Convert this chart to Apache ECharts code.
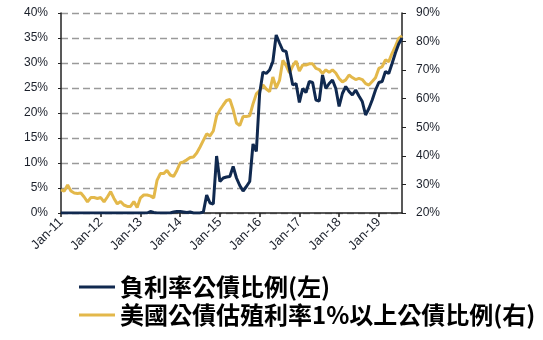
<!DOCTYPE html>
<html><head><meta charset="utf-8">
<script src="https://cdn.jsdelivr.net/npm/echarts@6/dist/echarts.min.js"></script>
<style>html,body{margin:0;padding:0;background:#fff}#c{width:543px;height:340px}</style>
</head><body><div id="c"></div>
<script>
var years = ['11','12','13','14','15','16','17','18','19'];
var monthNames = ['Jan','Feb','Mar','Apr','May','Jun','Jul','Aug','Sep','Oct','Nov','Dec'];
var categories = [];
for (var y = 0; y < years.length; y++) {
  for (var m = 0; m < 12; m++) {
    if (y === 8 && m > 7) break;
    categories.push(monthNames[m] + '-' + years[y]);
  }
}
var seriesNames = ['負利率公債比例(左)', '美國公債估殖利率1%以上公債比例(右)'];
// Left axis, %
var negativeYieldShare = [
  0,0,0,0,0,0,0,0,0,0,0,0,
  0,0,0,0,0,0,0,0,0,0,0,0,
  0,0,0,0.3,0.1,0,0,0,0,0,0.2,0.3,
  0.3,0.2,0.1,0.2,0,0,0,0.2,3.6,2.0,1.8,11.4,
  6.3,7.0,7.2,7.3,9.3,7.0,5.5,4.4,5.3,6.3,13.8,12.3,
  23.9,28.2,27.9,28.6,30.3,35.6,34.0,32.5,32.3,28.9,25.6,25.9,
  22.1,24.9,24.1,26.3,26.1,22.6,22.4,27.6,24.9,25.9,26.6,24.9,
  21.3,23.9,25.3,24.3,23.6,24.6,23.4,22.3,19.6,20.9,22.6,24.6,
  26.1,26.3,28.3,27.9,29.9,32.0,33.8,35.0
];
// Right axis, %
var above1pctShare = [
  28.1,27.7,29.8,27.7,27.0,26.8,27.0,25.6,23.9,25.4,25.4,25.1,
  25.4,23.9,25.6,27.5,25.1,23.2,24.0,22.8,22.3,22.3,24.0,21.9,
  25.3,26.3,26.3,26.0,25.3,31.4,33.8,33.8,34.9,33.3,32.8,34.9,
  37.5,37.9,38.6,39.4,39.6,41.0,43.1,45.4,47.7,47.0,48.7,54.0,
  56.1,57.8,59.4,59.7,56.2,51.5,50.6,53.8,53.8,54.0,58.2,61.7,
  62.9,64.8,63.4,62.5,67.6,63.8,66.4,73.4,71.6,69.0,71.5,73.2,
  69.7,71.8,71.8,72.2,72.2,70.6,70.2,68.8,70.1,69.2,70.1,69.0,
  67.1,65.9,66.6,68.3,67.4,66.7,67.1,66.7,65.3,64.8,66.0,67.3,
  70.6,71.2,73.6,73.0,75.9,78.3,81.1,82.0
];
var leftTicks = {min: 0, max: 40, interval: 5};
var rightTicks = {min: 20, max: 90, interval: 10};

var navy = '#10294f', gold = '#e3b84a';
var axisFont = {fontFamily: 'Liberation Sans, Arial, sans-serif', fontSize: 12, color: '#1a1f2a'};
var chart = echarts.init(document.getElementById('c'), null, {renderer: 'canvas'});
chart.setOption({
  animation: false,
  backgroundColor: '#fff',
  grid: {left: 61, right: 141, top: 13, bottom: 127, containLabel: false},
  legend: {
    orient: 'vertical', left: 79, top: 275, itemGap: 4, padding: 0,
    itemWidth: 36, itemHeight: 3, icon: 'rect',
    data: [{name: seriesNames[0], itemStyle: {color: navy}}, {name: seriesNames[1], itemStyle: {color: gold}}],
    textStyle: {fontFamily: 'Noto Sans CJK TC', fontWeight: 'bold', fontSize: 24, lineHeight: 24, color: '#000'}
  },
  xAxis: {
    type: 'category', data: categories, boundaryGap: false,
    axisLine: {lineStyle: {color: '#222', width: 1.5}},
    axisTick: {interval: 11, length: 4, lineStyle: {color: '#222', width: 1.5}},
    axisLabel: Object.assign({}, axisFont, {interval: 11, rotate: 45, margin: 7, fontSize: 13}),
    splitLine: {show: false}
  },
  yAxis: [
    {
      type: 'value', min: leftTicks.min, max: leftTicks.max, interval: leftTicks.interval,
      axisLine: {show: true, lineStyle: {color: '#222', width: 1.5}},
      axisTick: {show: true, length: 3, lineStyle: {color: '#222'}},
      axisLabel: Object.assign({formatter: '{value}%', margin: 13}, axisFont),
      splitLine: {show: true, lineStyle: {color: '#9a9a9a', width: 1.3, type: [7, 4]}}
    },
    {
      type: 'value', position: 'right', min: rightTicks.min, max: rightTicks.max, interval: rightTicks.interval,
      axisLine: {show: true, lineStyle: {color: '#222', width: 1.5}},
      axisTick: {show: true, length: 4, lineStyle: {color: '#222'}},
      axisLabel: Object.assign({formatter: '{value}%', margin: 14}, axisFont),
      splitLine: {show: false}
    }
  ],
  series: [
    {name: seriesNames[1], type: 'line', yAxisIndex: 1, data: above1pctShare, symbol: 'none',
     lineStyle: {color: gold, width: 3}, itemStyle: {color: gold}, z: 2},
    {name: seriesNames[0], type: 'line', yAxisIndex: 0, data: negativeYieldShare, symbol: 'none',
     lineStyle: {color: navy, width: 3}, itemStyle: {color: navy}, z: 3}
  ]
});
</script></body></html>
